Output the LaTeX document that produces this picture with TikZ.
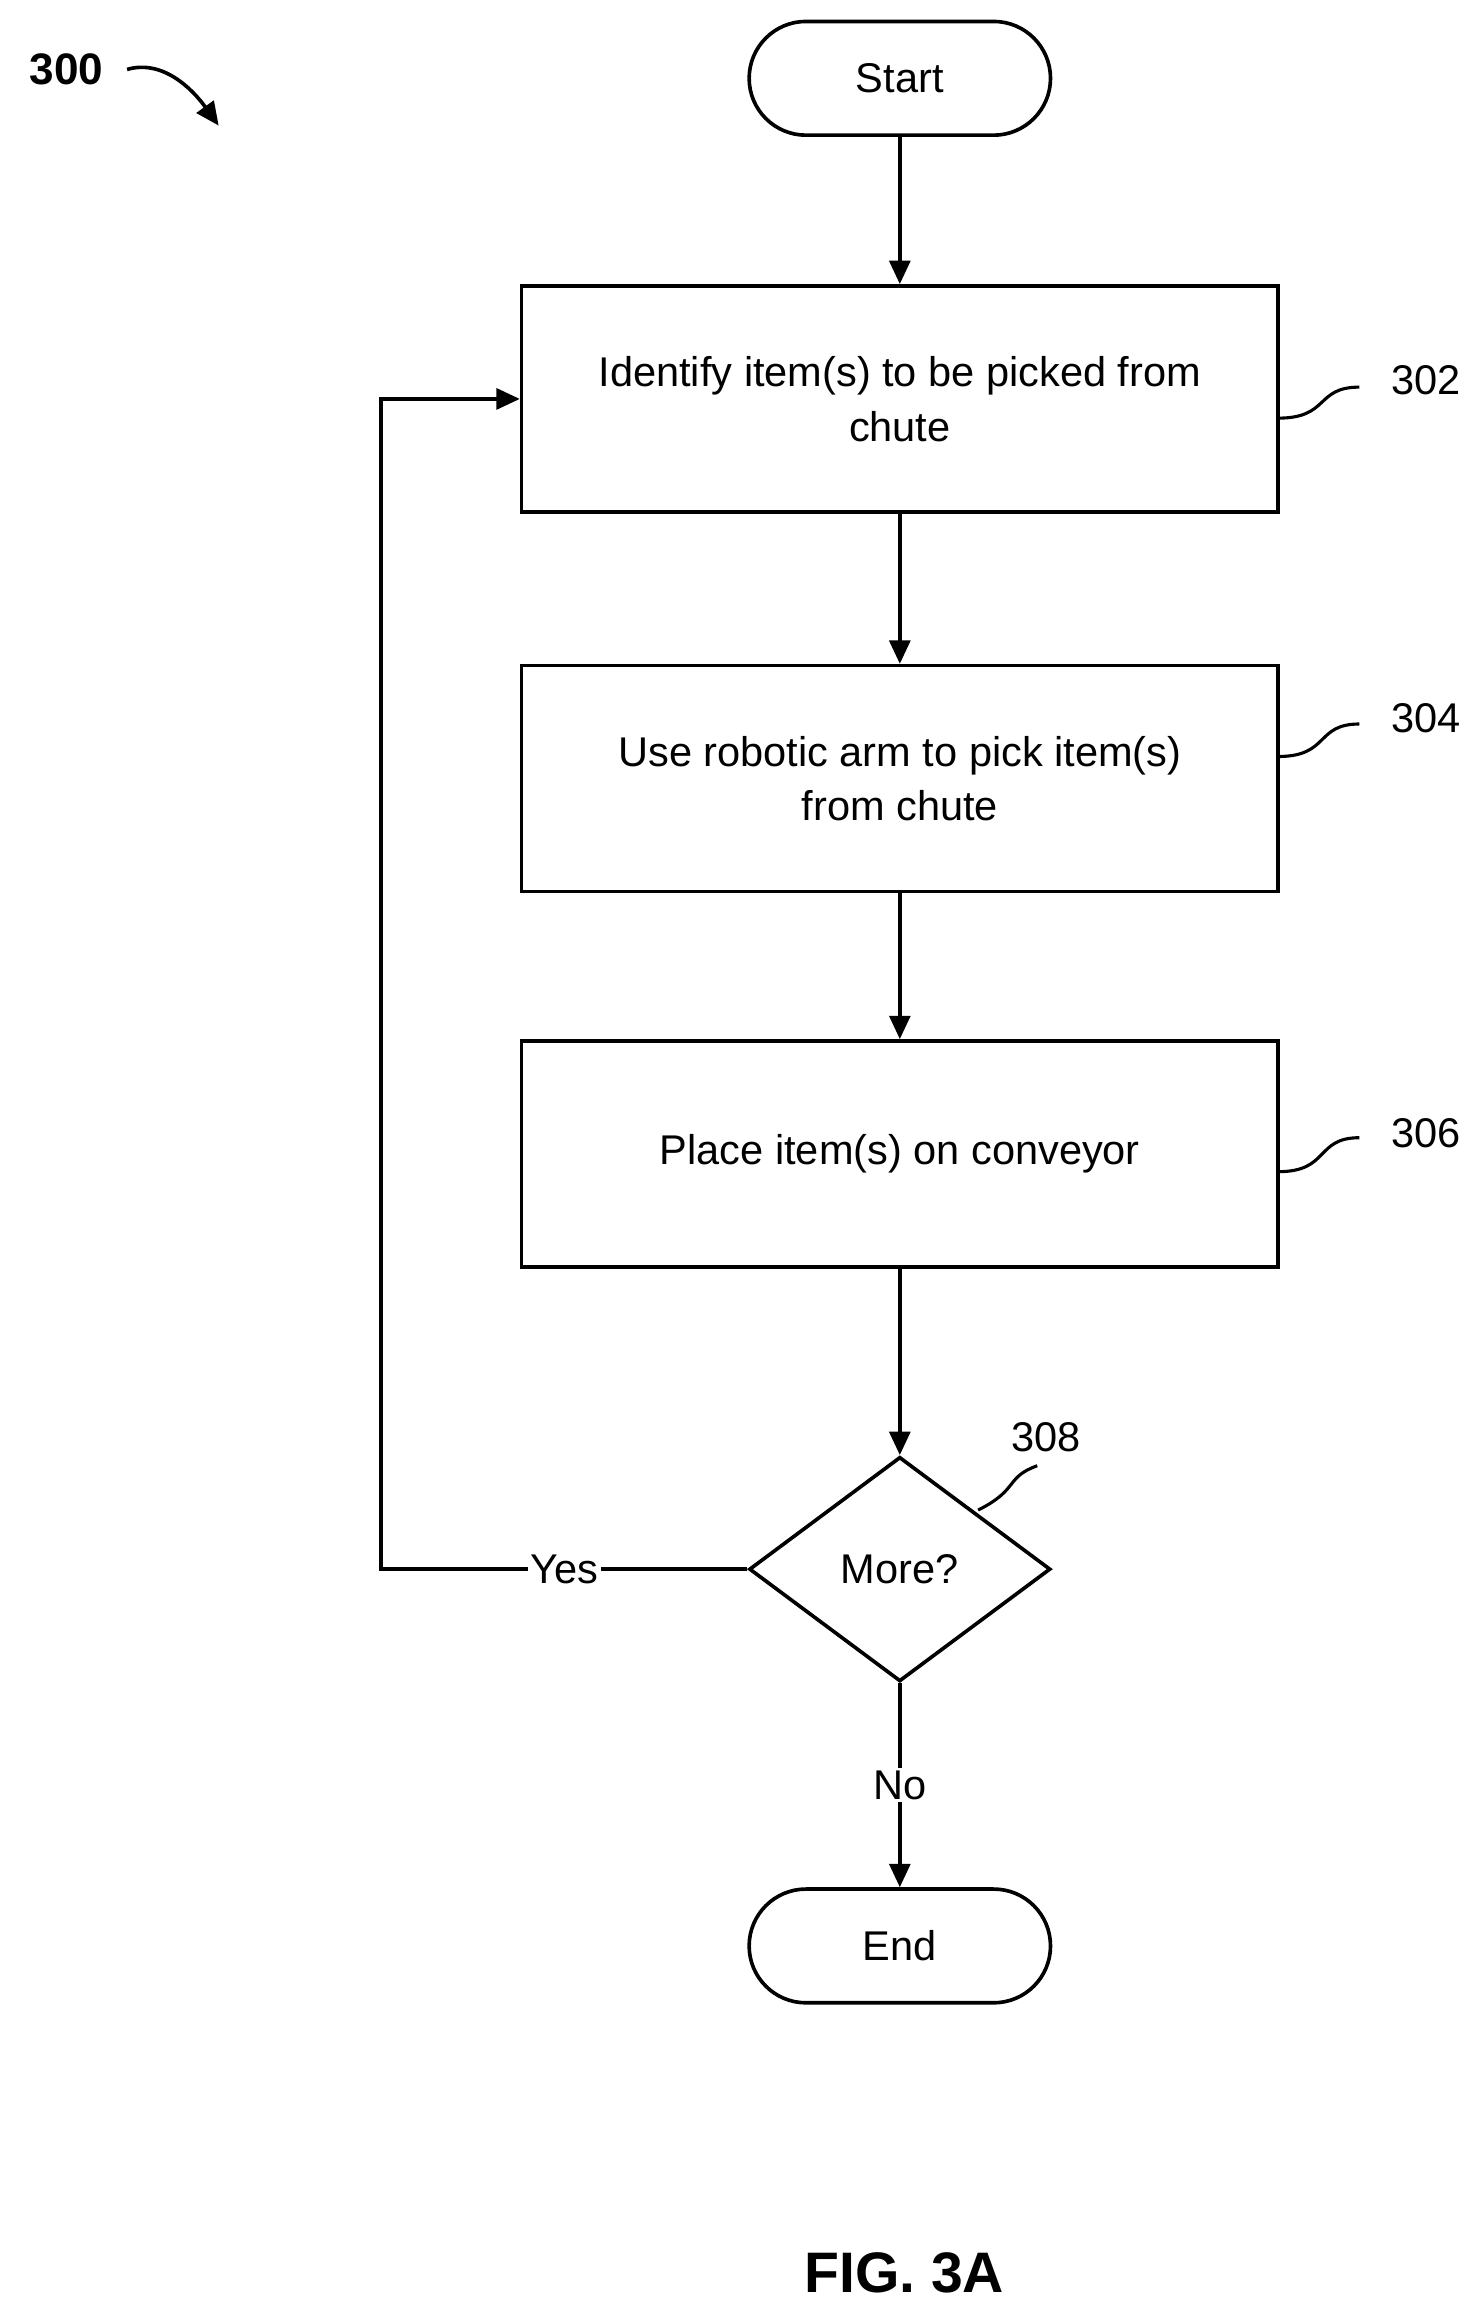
\documentclass[tikz,border=0pt]{standalone}
\usepackage{fontspec}
\setmainfont{Liberation Sans}
\usetikzlibrary{shapes.geometric,arrows.meta}
\tikzset{action/.style={rectangle,draw,line width=1.4pt,minimum width=10.24cm,minimum height=3.06cm,align=center,font=\fontsize{16}{21}\selectfont}}
\tikzset{term/.style={rectangle,rounded corners=0.77cm,draw,line width=1.4pt,minimum width=4.08cm,minimum height=1.54cm,font=\fontsize{16}{19}\selectfont}}
\tikzset{test/.style={diamond,draw,line width=1.4pt,minimum width=4.08cm,minimum height=3.04cm,inner sep=0pt,font=\fontsize{16}{19}\selectfont}}
\tikzset{flow/.style={line width=1.4pt,-{Triangle[length=9pt,width=8pt]}}}
\tikzset{ref/.style={font=\fontsize{16}{19}\selectfont}}
\begin{document}
\begin{tikzpicture}[x=0.02cm,y=-0.02cm]
  \useasboundingbox (0,0) rectangle (1000,1558);
  \node[term] (start) at (609,53) {Start};
  \node[action] (s302) at (609,270) {Identify item(s) to be picked from\\chute};
  \node[action] (s304) at (609,527) {Use robotic arm to pick item(s)\\from chute};
  \node[action] (s306) at (609,781) {Place item(s) on conveyor};
  \node[test] (more) at (609,1062) {More?};
  \node[term] (stop) at (609,1317) {End};
  \draw[flow] (start) -- (s302);
  \draw[flow] (s302) -- (s304);
  \draw[flow] (s304) -- (s306);
  \draw[flow] (s306) -- (more);
  \draw[flow] (more) -- node[fill=white,ref,inner sep=1pt] {No} (stop);
  \coordinate (c1) at (258,1062);
  \coordinate (c2) at (258,270);
  \draw[flow] (more.west) -- node[fill=white,ref,inner sep=1pt] {Yes} (c1) -- (c2) -- (s302.west);
  % reference numerals
  \node[ref] (n302) at (965,257) {302};
  \node[ref] (n304) at (965,486) {304};
  \node[ref] (n306) at (965,767) {306};
  \node[ref] (n308) at (708,973) {308};
  \draw[line width=1.2pt] (865,283) .. controls (900,283) and (890,262) .. (920,262);
  \draw[line width=1.2pt] (865,512) .. controls (900,512) and (890,490) .. (920,490);
  \draw[line width=1.2pt] (865,793) .. controls (900,793) and (890,770) .. (920,770);
  \draw[line width=1.2pt] (662,1022) .. controls (690,1008) and (680,1000) .. (702,992);
  \node[font=\bfseries\fontsize{17}{20}\selectfont] (n300) at (45,47) {300};
  \draw[line width=1.4pt,-{Triangle[length=9pt,width=8pt]}] (86,47) .. controls (110,40) and (130,60) .. (148,85);
  \node[font=\bfseries\fontsize{22}{26}\selectfont] (fig) at (612,1538) {FIG. 3A};
\end{tikzpicture}
\end{document}
